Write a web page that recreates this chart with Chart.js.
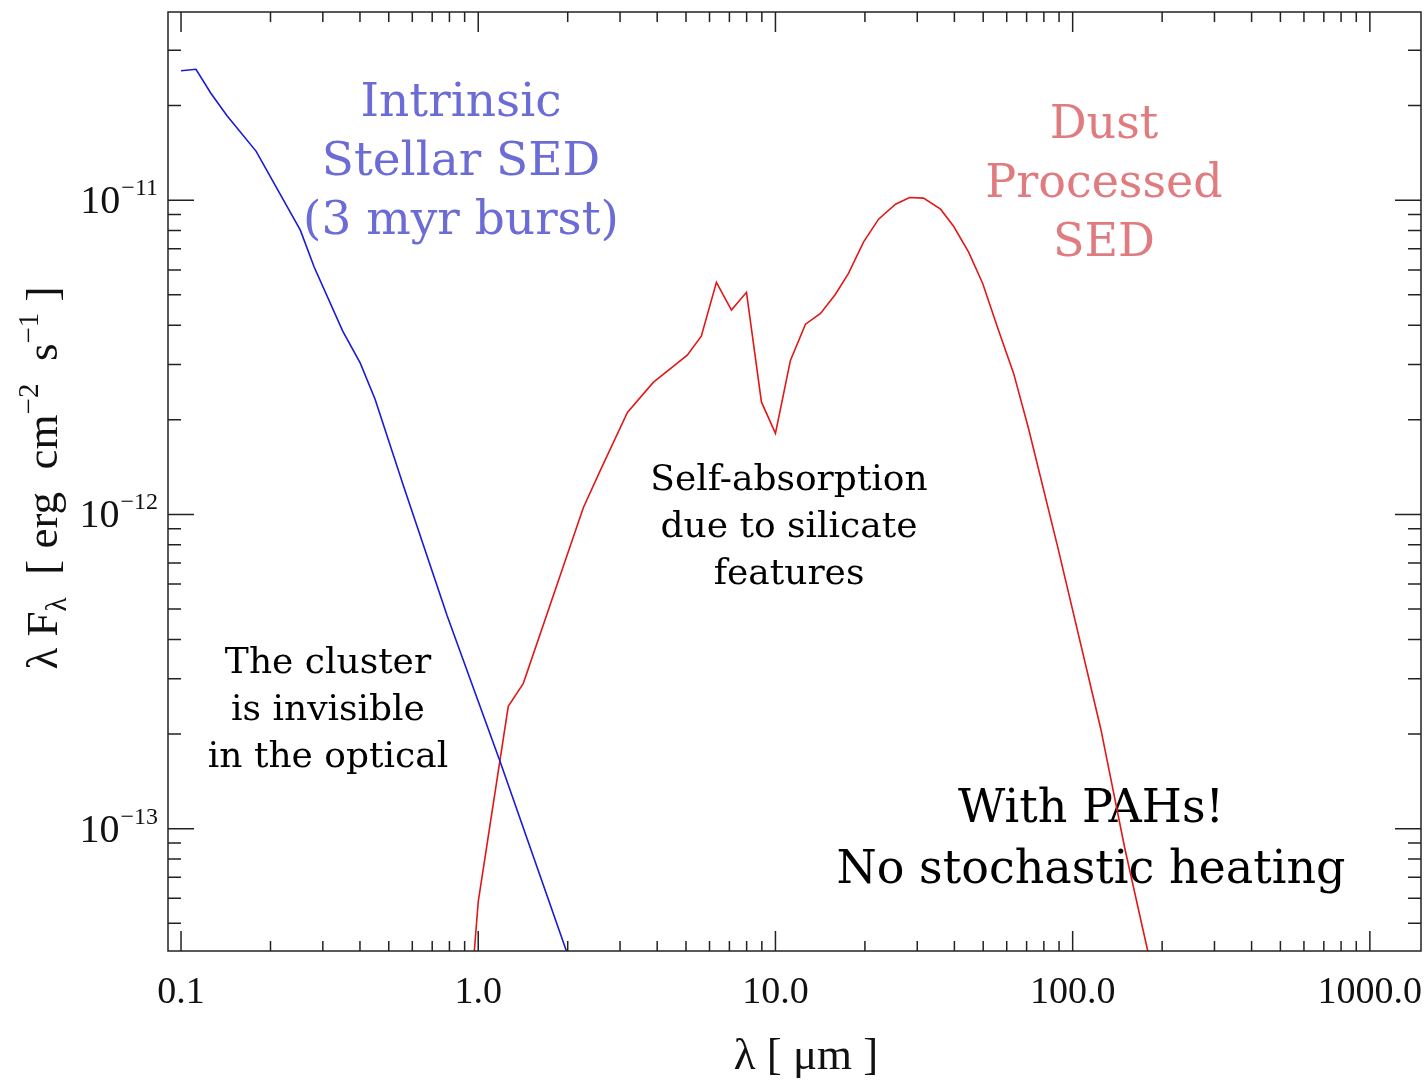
<!DOCTYPE html>
<html lang="en">
<head>
<meta charset="UTF-8" />
<title>SED: stellar vs dust processed</title>
<script src="https://cdn.jsdelivr.net/npm/chart.js"></script>
<style>
  html, body { margin: 0; padding: 0; background: #fff; }
  canvas { display: block; }
</style>
</head>
<body>
<canvas id="sedChart" width="1427" height="1082"></canvas>
<script>
// wavelength [micron] and lambda F_lambda [erg cm^-2 s^-1]
const stellarWave = [0.1, 0.1123, 0.126, 0.1426, 0.179, 0.252, 0.2805, 0.350, 0.401, 0.45, 0.559, 0.786, 1.186, 1.98, 2.20];
const stellarFlux = [2.58e-11, 2.61e-11, 2.19e-11, 1.86e-11, 1.43e-11, 8.03e-12, 6.13e-12, 3.83e-12, 3.03e-12, 2.32e-12, 1.24e-12, 4.76e-13, 1.63e-13, 4.08e-14, 3.05e-14];

const dustWave = [0.947, 1.0, 1.262, 1.418, 2.257, 2.575, 3.176, 3.88, 5.05, 5.63, 6.33, 7.11, 7.99, 8.97, 10.0, 11.23, 12.62, 14.18, 15.92, 17.61, 19.78, 22.23, 25.35, 28.27, 31.49, 35.93, 39.75, 44.66, 49.77, 56.33, 63.3, 71.0, 89.0, 124.3, 150.0, 178.9, 190.3];
const dustFlux = [3.05e-14, 5.86e-14, 2.45e-13, 2.90e-13, 1.05e-12, 1.38e-12, 2.11e-12, 2.63e-12, 3.21e-12, 3.69e-12, 5.48e-12, 4.47e-12, 5.09e-12, 2.28e-12, 1.81e-12, 3.09e-12, 4.03e-12, 4.36e-12, 5.02e-12, 5.85e-12, 7.35e-12, 8.70e-12, 9.71e-12, 1.02e-11, 1.015e-11, 9.36e-12, 8.26e-12, 6.83e-12, 5.44e-12, 3.85e-12, 2.81e-12, 1.88e-12, 7.9e-13, 2.08e-13, 8.6e-14, 4.08e-14, 3.05e-14];

// tick labels
const xTickValues = [0.1, 1, 10, 100, 1000];
const xTickLabels = ['0.1', '1.0', '10.0', '100.0', '1000.0'];
const yTickValues = [1e-11, 1e-12, 1e-13];
const yTickExponents = ['\u221211', '\u221212', '\u221213'];

// annotations: centre x, first line y, line gap (px), font size, colour
const notes = [
  { lines: ['Intrinsic', 'Stellar SED', '(3 myr burst)'], x: 461, y: 104, gap: 59, size: 47, color: '#6c6cd6' },
  { lines: ['Dust', 'Processed', 'SED'], x: 1104, y: 126, gap: 59, size: 46, color: '#e07c80' },
  { lines: ['Self-absorption', 'due to silicate', 'features'], x: 789, y: 481, gap: 47, size: 36, color: '#000' },
  { lines: ['The cluster', 'is invisible', 'in the optical'], x: 328, y: 664, gap: 47, size: 36, color: '#000' },
  { lines: ['With PAHs!', 'No stochastic heating'], x: 1091, y: 810, gap: 61, size: 46, color: '#000' }
];

const toPoints = (xs, ys) => xs.map((x, i) => ({ x: x, y: ys[i] }));

function logTicks(scale, fn) {
  const lo = Math.floor(Math.log10(scale.min));
  const hi = Math.ceil(Math.log10(scale.max));
  for (let d = lo; d <= hi; d++) {
    for (let k = 1; k <= 9; k++) {
      const v = k * Math.pow(10, d);
      if (v < scale.min || v > scale.max) continue;
      fn(scale.getPixelForValue(v), k === 1);
    }
  }
}

const sedFrame = {
  id: 'sedFrame',
  beforeDatasetsDraw(chart) {
    const ctx = chart.ctx;
    ctx.save();
    ctx.textAlign = 'center';
    ctx.textBaseline = 'middle';
    notes.forEach(n => {
      ctx.fillStyle = n.color;
      ctx.font = n.size + 'px "DejaVu Serif"';
      n.lines.forEach((t, i) => ctx.fillText(t, n.x, n.y + i * n.gap));
    });
    ctx.restore();
  },
  afterDatasetsDraw(chart) {
    const ctx = chart.ctx;
    const a = chart.chartArea;
    const xs = chart.scales.x, ys = chart.scales.y;
    ctx.save();
    ctx.strokeStyle = '#222';
    ctx.lineWidth = 1.5;
    ctx.strokeRect(a.left, a.top, a.right - a.left, a.bottom - a.top);

    // inward ticks on all four sides
    ctx.beginPath();
    logTicks(xs, (p, major) => {
      const len = major ? 20 : 10;
      ctx.moveTo(p, a.bottom); ctx.lineTo(p, a.bottom - len);
      ctx.moveTo(p, a.top); ctx.lineTo(p, a.top + len);
    });
    logTicks(ys, (p, major) => {
      const len = major ? 26 : 13;
      ctx.moveTo(a.left, p); ctx.lineTo(a.left + len, p);
      ctx.moveTo(a.right, p); ctx.lineTo(a.right - len, p);
    });
    ctx.stroke();

    // x tick labels
    ctx.fillStyle = '#111';
    ctx.font = '38px "Liberation Serif"';
    ctx.textAlign = 'center';
    ctx.textBaseline = 'alphabetic';
    xTickValues.forEach((v, i) => {
      ctx.fillText(xTickLabels[i], xs.getPixelForValue(v), a.bottom + 52);
    });

    // y tick labels 10^n
    yTickValues.forEach((v, i) => {
      const p = ys.getPixelForValue(v);
      const right = a.left - 10;
      ctx.textAlign = 'right';
      ctx.font = '24px "Liberation Serif"';
      const w = ctx.measureText(yTickExponents[i]).width;
      ctx.fillText(yTickExponents[i], right, p - 5);
      ctx.font = '40px "Liberation Serif"';
      ctx.fillText('10', right - w - 1, p + 13);
    });

    // x axis title
    ctx.textAlign = 'center';
    ctx.font = '45px "Liberation Serif"';
    ctx.fillText('\u03bb [ \u03bcm ]', 806, 1069);

    // y axis title, rotated, built from pieces for sub/superscripts
    const pieces = [
      ['\u03bb F', 45, 0], ['\u03bb', 29, 9], ['  [ erg  cm', 45, 0], ['\u22122', 29, -19],
      ['  s', 45, 0], ['\u22121', 29, -19], [' ]', 45, 0]
    ];
    ctx.textAlign = 'left';
    let total = 0;
    pieces.forEach(pc => { ctx.font = pc[1] + 'px "Liberation Serif"'; total += ctx.measureText(pc[0]).width; });
    ctx.translate(57, 478);
    ctx.rotate(-Math.PI / 2);
    let cx = -total / 2;
    pieces.forEach(pc => {
      ctx.font = pc[1] + 'px "Liberation Serif"';
      ctx.fillText(pc[0], cx, pc[2]);
      cx += ctx.measureText(pc[0]).width;
    });
    ctx.restore();
  }
};

const ctx = document.getElementById('sedChart').getContext('2d');
const sedChart = new Chart(ctx, {
  type: 'scatter',
  data: {
    datasets: [
      {
        label: 'Intrinsic stellar SED',
        data: toPoints(stellarWave, stellarFlux),
        showLine: true,
        borderColor: '#1a1ad8',
        borderWidth: 1.6,
        pointRadius: 0,
        tension: 0
      },
      {
        label: 'Dust processed SED',
        data: toPoints(dustWave, dustFlux),
        showLine: true,
        borderColor: '#e01818',
        borderWidth: 1.6,
        pointRadius: 0,
        tension: 0
      }
    ]
  },
  options: {
    responsive: false,
    animation: false,
    devicePixelRatio: 1,
    layout: { padding: { left: 168, right: 6, top: 12, bottom: 131 } },
    plugins: { legend: { display: false }, tooltip: { enabled: false } },
    scales: {
      x: { type: 'logarithmic', min: 0.0904, max: 1486, display: false },
      y: { type: 'logarithmic', min: 4.08e-14, max: 3.97e-11, display: false }
    }
  },
  plugins: [sedFrame]
});
</script>
</body>
</html>
